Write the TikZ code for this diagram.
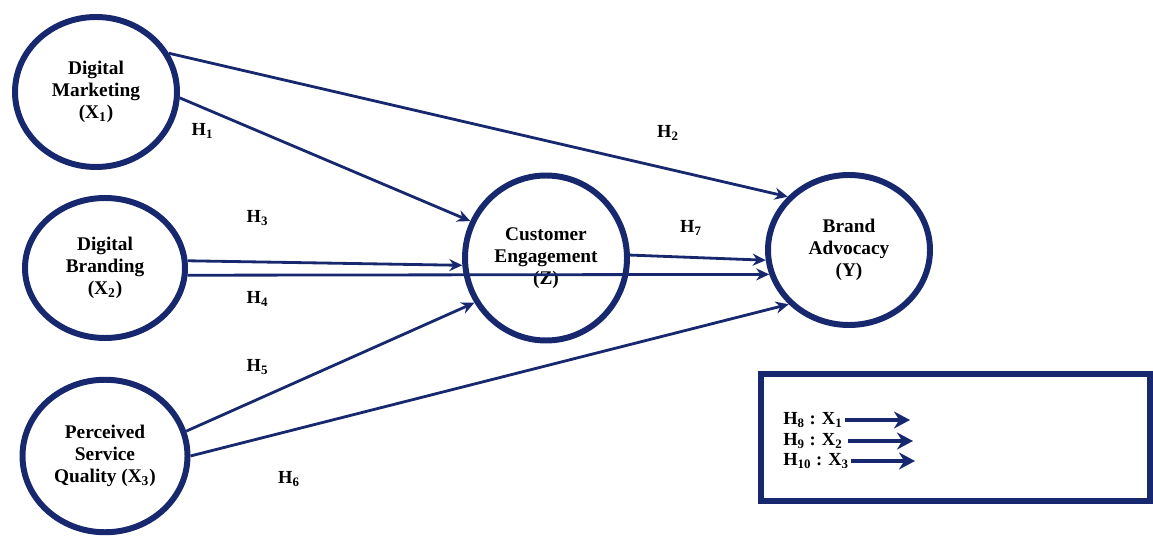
\documentclass[tikz,border=0pt]{standalone}
\usepackage{fontspec}
\setmainfont{Liberation Serif}
\usetikzlibrary{shapes.geometric,arrows.meta}
\definecolor{navy}{RGB}{24,40,110}
\begin{document}
\begin{tikzpicture}[
  latent/.style={ellipse, draw=navy, line width=3.4pt, align=center, inner sep=0pt,
    font=\bfseries\fontsize{11}{12.5}\selectfont},
  hpath/.style={draw=navy, line width=1.6pt, -{Stealth[length=2.6mm,width=2.4mm]}},
  hyp/.style={font=\bfseries\fontsize{10.5}{12}\selectfont},
  legarrow/.style={draw=navy, line width=2.6pt, -{Stealth[length=3.2mm,width=3.4mm]}}
]
\useasboundingbox (0,0) rectangle (23.06,10.76);
% constructs
\node [latent, minimum width=3.24cm, minimum height=3.0cm] (dm) at (1.92,8.92) {Digital\\Marketing\\(X\textsubscript{1})};
\node [latent, minimum width=3.2cm, minimum height=2.8cm] (db) at (2.10,5.40) {Digital\\Branding\\(X\textsubscript{2})};
\node [latent, minimum width=3.3cm, minimum height=3.05cm] (psq) at (2.10,1.64) {Perceived\\Service\\Quality (X\textsubscript{3})};
\node [latent, minimum width=3.24cm, minimum height=3.3cm] (ce) at (10.92,5.60) {Customer\\Engagement\\(Z)};
\node [latent, minimum width=3.24cm, minimum height=3.0cm] (ba) at (16.98,5.76) {Brand\\Advocacy\\(Y)};
% paths
\draw [hpath] (dm.-4) -- (ce.154);
\draw [hpath] (dm.28) -- (ba.139);
\draw [hpath] (db.5) -- (ce.185);
\draw [hpath] (db.-5) -- (ba.197);
\draw [hpath] (psq.17) -- (ce.212);
\draw [hpath] (psq.0) -- (ba.222);
\draw [hpath] (ce.2) -- (ba.187);
% hypothesis labels
\node [hyp] (h1) at (4.05,8.14) {H\textsubscript{1}};
\node [hyp] (h2) at (13.36,8.10) {H\textsubscript{2}};
\node [hyp] (h3) at (5.15,6.40) {H\textsubscript{3}};
\node [hyp] (h4) at (5.15,4.78) {H\textsubscript{4}};
\node [hyp] (h5) at (5.15,3.42) {H\textsubscript{5}};
\node [hyp] (h6) at (5.78,1.18) {H\textsubscript{6}};
\node [hyp] (h7) at (13.82,6.20) {H\textsubscript{7}};
% legend
\draw [navy, line width=3.4pt] (15.22,0.74) rectangle (22.99,3.28);
\node [hyp, anchor=west, inner sep=0pt] (l8) at (15.66,2.36) {H\textsubscript{8} : X\textsubscript{1}};
\node [hyp, anchor=west, inner sep=0pt] (l9) at (15.66,1.94) {H\textsubscript{9} : X\textsubscript{2}};
\node [hyp, anchor=west, inner sep=0pt] (l10) at (15.66,1.54) {H\textsubscript{10} : X\textsubscript{3}};
\coordinate (t8) at (18.20,2.36);
\coordinate (t9) at (18.26,1.94);
\coordinate (t10) at (18.30,1.54);
\draw [legarrow] ([xshift=1pt]l8.east) -- (t8);
\draw [legarrow] ([xshift=3pt]l9.east) -- (t9);
\draw [legarrow] ([xshift=1pt]l10.east) -- (t10);
\end{tikzpicture}
\end{document}
